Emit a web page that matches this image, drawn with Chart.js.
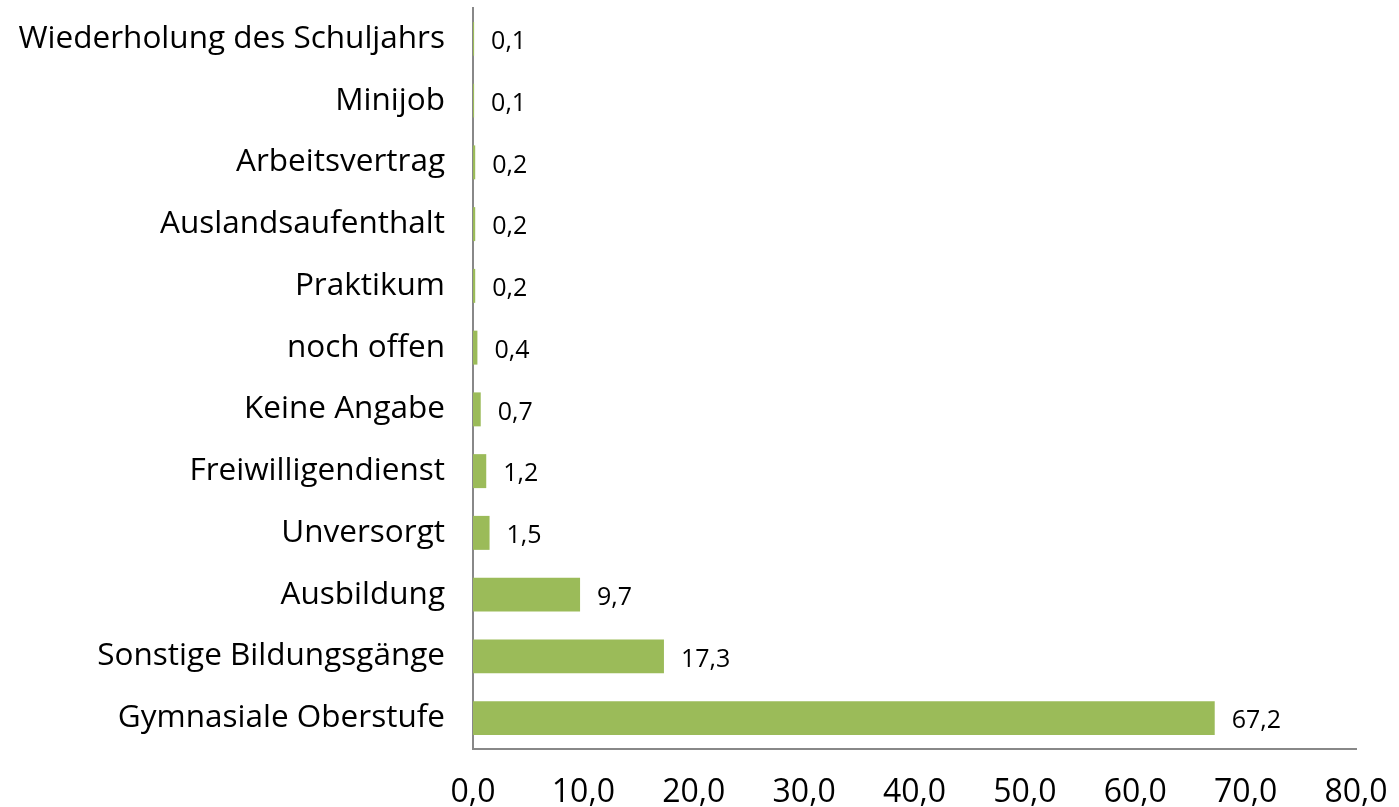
<!DOCTYPE html>
<html>
<head>
<meta charset="utf-8">
<script src="https://cdn.jsdelivr.net/npm/chart.js@4"></script>
<style>
  html, body { margin: 0; padding: 0; background: #fff; }
  #wrap { width: 1399px; height: 807px; }
</style>
</head>
<body>
<div id="wrap"><canvas id="myChart" width="1399" height="807"></canvas></div>
<script>
// Kategorien (von oben nach unten)
var categories = ['Wiederholung des Schuljahrs', 'Minijob', 'Arbeitsvertrag', 'Auslandsaufenthalt',
    'Praktikum', 'noch offen', 'Keine Angabe', 'Freiwilligendienst', 'Unversorgt',
    'Ausbildung', 'Sonstige Bildungsgänge', 'Gymnasiale Oberstufe'];
// Anteile in Prozent
var values = [0.1, 0.1, 0.2, 0.2, 0.2, 0.4, 0.7, 1.2, 1.5, 9.7, 17.3, 67.2];
// Achsenbeschriftungen
var xTicks = [0, 10, 20, 30, 40, 50, 60, 70, 80];

var FONT = "'Open Sans', 'Noto Sans', sans-serif";

function fmt(v) { return v.toFixed(1).replace('.', ','); }

// Werte rechts neben den Balken schreiben
var valueLabels = {
    id: 'valueLabels',
    afterDatasetsDraw: function (chart) {
        var ctx = chart.ctx;
        var meta = chart.getDatasetMeta(0);
        ctx.save();
        ctx.font = '25px ' + FONT;
        ctx.fillStyle = '#000';
        ctx.textAlign = 'left';
        ctx.textBaseline = 'middle';
        meta.data.forEach(function (bar, i) {
            ctx.fillText(fmt(values[i]), bar.x + 17, bar.y + 3);
        });
        ctx.restore();
    }
};

var ctx = document.getElementById('myChart').getContext('2d');
var chart = new Chart(ctx, {
    type: 'bar',
    data: {
        labels: categories,
        datasets: [{
            data: values,
            backgroundColor: '#9BBB59',
            borderWidth: 0,
            barPercentage: 0.55,
            categoryPercentage: 1.0
        }]
    },
    options: {
        indexAxis: 'y',
        responsive: false,
        animation: false,
        layout: { padding: { top: 8, right: 43, left: 0, bottom: 0 } },
        plugins: {
            legend: { display: false },
            tooltip: { enabled: false }
        },
        scales: {
            x: {
                min: 0,
                max: 80,
                afterBuildTicks: function (scale) {
                    scale.ticks = xTicks.map(function (v) { return { value: v }; });
                },
                afterFit: function (scale) {
                    scale.height = 58;
                    scale.paddingLeft = 0;
                    scale.paddingRight = 0;
                },
                ticks: {
                    color: '#000',
                    font: { family: FONT, size: 32 },
                    padding: 25,
                    maxRotation: 0,
                    callback: function (v) { return fmt(v); }
                },
                grid: { display: false, drawTicks: false },
                border: { color: '#888', width: 2 }
            },
            y: {
                afterFit: function (scale) {
                    scale.width = 473;
                    scale.paddingTop = 0;
                    scale.paddingBottom = 0;
                },
                ticks: {
                    color: '#000',
                    font: { family: FONT, size: 31.5 },
                    padding: 28
                },
                grid: { display: false, drawTicks: false },
                border: { color: '#888', width: 2 }
            }
        }
    },
    plugins: [valueLabels]
});
</script>
</body>
</html>
